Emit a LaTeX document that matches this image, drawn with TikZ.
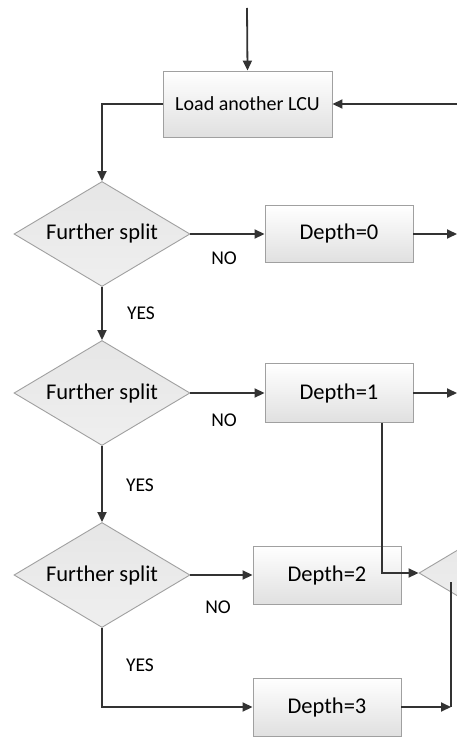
\documentclass[tikz,border=0pt]{standalone}
\usepackage{fontspec}
\setmainfont{Carlito}
\usetikzlibrary{shapes.geometric,arrows.meta}
\definecolor{linec}{HTML}{333333}
\definecolor{bordc}{HTML}{A0A0A0}
\definecolor{boxbot}{HTML}{E0E0E0}
\definecolor{diatop}{HTML}{E6E6E6}
\definecolor{diabot}{HTML}{EFEFEF}
\tikzset{
  arr/.style={draw=linec, line width=1.8pt, -{Triangle[length=10pt,width=9pt]}},
  ln/.style={draw=linec, line width=1.8pt},
  boxn/.style={rectangle, draw=bordc, line width=0.9pt, top color=white, bottom color=boxbot,
    minimum width=148pt, minimum height=57pt, inner sep=0pt, text=black,
    font=\fontsize{22.5}{26}\selectfont},
  dia/.style={diamond, aspect=1.67, draw=bordc, line width=0.9pt, top color=diatop, bottom color=diabot,
    minimum width=176pt, minimum height=105pt, inner sep=0pt, text=black,
    font=\fontsize{22.5}{26}\selectfont},
  lab/.style={font=\fontsize{19.5}{22}\selectfont, text=black, inner sep=0pt}
}
\begin{document}
\begin{tikzpicture}[x=1pt,y=-1pt]
\fill[white] (0,0) rectangle (457,738);
\clip (0,0) rectangle (457,738);
% nodes
\node[boxn, minimum width=169pt, minimum height=66pt, font=\fontsize{20}{24}\selectfont] (load) at (247.5,104) {Load another LCU};
\node[dia] (d1) at (102,234) {Further split};
\node[dia] (d2) at (102,393) {Further split};
\node[dia] (d3) at (102,575) {Further split};
\node[dia] (d4) at (507,573) {};
\node[boxn] (dep0) at (339,234) {Depth=0};
\node[boxn, minimum height=59pt] (dep1) at (339,393) {Depth=1};
\node[boxn, minimum height=58pt] (dep2) at (327,575) {Depth=2};
\node[boxn, minimum height=58pt] (dep3) at (327,707) {Depth=3};
% labels
\node[lab] (no1) at (224,258) {NO};
\node[lab] (yes1) at (141,313) {YES};
\node[lab] (no2) at (224,420) {NO};
\node[lab] (yes2) at (140,485) {YES};
\node[lab] (no3) at (218,607) {NO};
\node[lab] (yes3) at (140,665) {YES};
% free ends
\coordinate (t0) at (247,8);
\coordinate (r0) at (457,104);
\coordinate (e0) at (457,234);
\coordinate (e1) at (457,393);
\coordinate (v1) at (382,0);
\coordinate (m3) at (451,707);
\coordinate (m3top) at (451,582);
% connectors
\draw[arr] (t0) -- (load.north);
\draw[arr] (r0) -- (load.east);
\draw[arr] (load.west) -| (d1.north);
\draw[arr] (d1.east) -- (dep0.west);
\draw[arr] (dep0.east) -- (e0);
\draw[arr] (d1.south) -- (d2.north);
\draw[arr] (d2.east) -- (dep1.west);
\draw[arr] (dep1.east) -- (e1);
\draw[arr] (d2.south) -- (d3.north);
\draw[arr] (d3.east) -- (dep2.west);
\draw[arr] (dep1.south -| v1) |- (d4.west);
\draw[arr] (d3.south) |- (dep3.west);
\draw[ln] (m3top) -- (m3);
\draw[arr] (dep3.east) -- (m3);
\end{tikzpicture}
\end{document}
